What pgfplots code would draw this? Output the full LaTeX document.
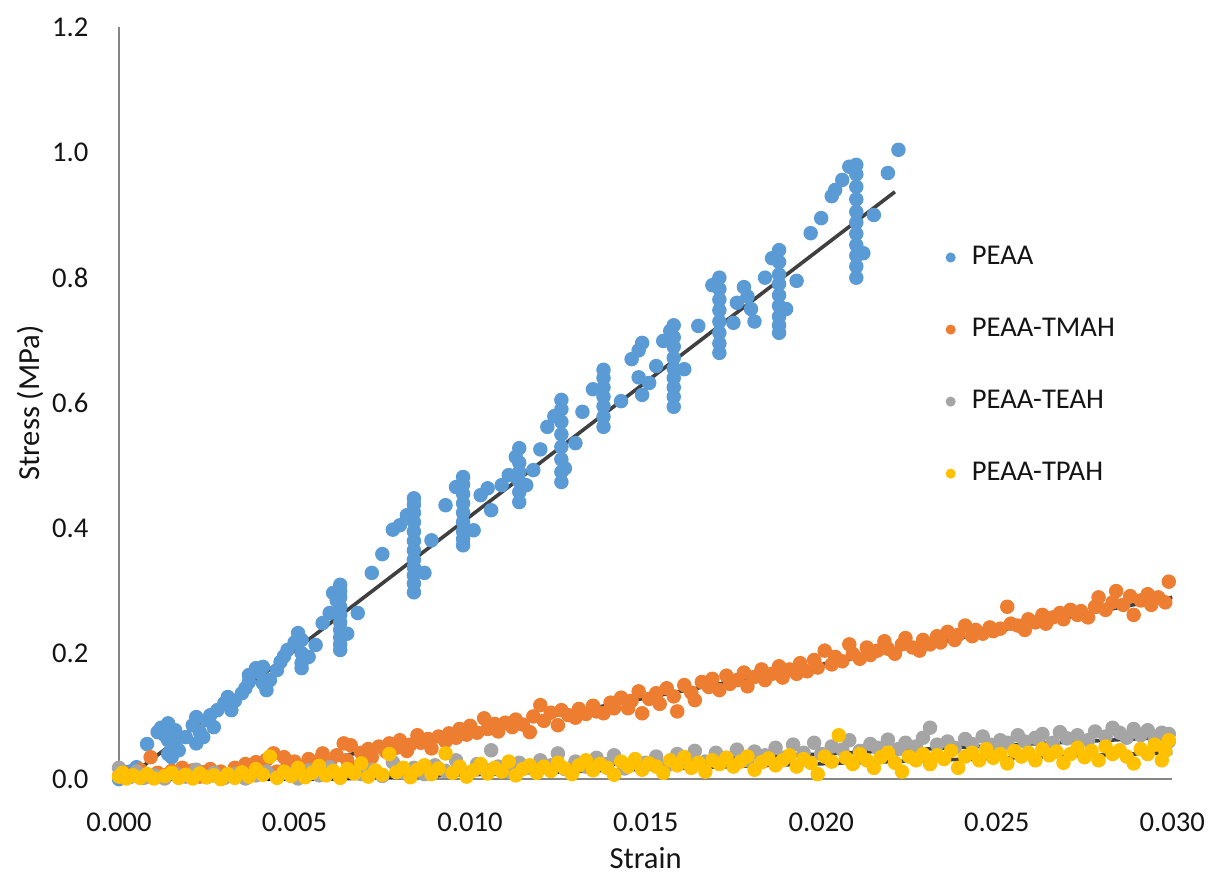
\documentclass[border=0pt]{standalone}
\usepackage{fontspec}
\setmainfont{Carlito}
\usepackage{pgfplots}
\pgfplotsset{compat=1.18}

\definecolor{peaa}{RGB}{91,155,213}
\definecolor{tmah}{RGB}{237,125,49}
\definecolor{teah}{RGB}{165,165,165}
\definecolor{tpah}{RGB}{255,192,0}
\definecolor{axisgray}{RGB}{134,134,134}
\definecolor{txt}{RGB}{20,20,20}

\begin{document}
\begin{tikzpicture}
\useasboundingbox (-42.8pt,-35.6pt) rectangle (393.8pt,280.2pt);
\begin{axis}[
  at={(0,0)}, anchor=south west,
  scale only axis,
  width=378.8pt, height=270.5pt,
  xmin=0, xmax=0.030, ymin=0, ymax=1.2,
  axis x line=bottom, axis y line=left,
  axis line style={-, draw=axisgray, line width=0.7pt},
  xtick={0,0.005,...,0.0301}, ytick={0,0.2,...,1.21},
  major tick length=0pt,
  /pgf/number format/assume math mode=true,
  xticklabel={\pgfmathprintnumber[fixed,fixed zerofill,precision=3]{\tick}},
  yticklabel={\pgfmathprintnumber[fixed,fixed zerofill,precision=1]{\tick}},
  scaled x ticks=false,
  ticklabel style={font=\fontsize{10.3}{12}\selectfont, text=txt},
  xticklabel style={yshift=-8.5pt},
  yticklabel style={xshift=-7.5pt},
  xlabel={Strain}, ylabel={Stress (MPa)},
  label style={font=\fontsize{11}{13}\selectfont, text=txt},
  xlabel style={at={([yshift=-28.4pt]axis description cs:0.5,0)}, anchor=center},
  ylabel style={at={([xshift=-32pt]axis description cs:0,0.5)}, anchor=center},
  clip=false,
  legend style={draw=none, fill=none, at={(rel axis cs:0.7764,0.724)}, anchor=north west,
    row sep=13.8pt, column sep=3.8pt, font=\fontsize{10.3}{12}\selectfont, text=txt},
  legend cell align=left,
]
% PEAA
\addplot[only marks, mark=*, mark size=2.4pt, color=peaa,
  legend image code/.code={\fill[peaa] (0pt,0pt) circle (1.6pt);}] coordinates {
(0.0000,0.000) (0.0001,0.005) (0.0003,0.012) (0.0005,0.019) (0.0008,0.056) (0.0011,0.075)
(0.0012,0.082) (0.0013,0.070) (0.0014,0.089) (0.0014,0.062) (0.0015,0.035) (0.0015,0.048)
(0.0016,0.078) (0.0016,0.057) (0.0017,0.046) (0.0014,0.040) (0.0019,0.067) (0.0021,0.086)
(0.0022,0.099) (0.0022,0.057) (0.0023,0.075) (0.0024,0.067) (0.0025,0.094) (0.0026,0.102)
(0.0027,0.083) (0.0028,0.110) (0.0030,0.121) (0.0031,0.131) (0.0032,0.110) (0.0033,0.125)
(0.0035,0.137) (0.0036,0.145) (0.0037,0.155) (0.0037,0.166) (0.0039,0.177) (0.0040,0.170)
(0.0041,0.179) (0.0041,0.153) (0.0042,0.142) (0.0043,0.158) (0.0045,0.174) (0.0046,0.187)
(0.0047,0.196) (0.0048,0.206) (0.0050,0.218) (0.0051,0.233) (0.0052,0.222) (0.0052,0.201)
(0.0052,0.185) (0.0052,0.177) (0.0054,0.195) (0.0056,0.214) (0.0058,0.249) (0.0060,0.265)
(0.0061,0.297) (0.0062,0.285) (0.0063,0.310) (0.0063,0.300) (0.0063,0.290) (0.0063,0.275)
(0.0063,0.262) (0.0063,0.250) (0.0063,0.238) (0.0063,0.226) (0.0063,0.215) (0.0063,0.206)
(0.0065,0.232) (0.0068,0.265) (0.0072,0.329) (0.0075,0.359) (0.0078,0.398) (0.0080,0.405)
(0.0082,0.421) (0.0084,0.448) (0.0084,0.438) (0.0084,0.425) (0.0084,0.410) (0.0084,0.395)
(0.0084,0.380) (0.0084,0.365) (0.0084,0.350) (0.0084,0.338) (0.0084,0.325) (0.0084,0.312)
(0.0084,0.298) (0.0087,0.329) (0.0089,0.381) (0.0093,0.437) (0.0096,0.466) (0.0098,0.482)
(0.0098,0.470) (0.0098,0.455) (0.0098,0.440) (0.0098,0.425) (0.0098,0.410) (0.0098,0.395)
(0.0098,0.383) (0.0098,0.373) (0.0101,0.397) (0.0103,0.453) (0.0105,0.464) (0.0106,0.429)
(0.0109,0.469) (0.0111,0.485) (0.0113,0.514) (0.0114,0.528) (0.0114,0.505) (0.0114,0.490)
(0.0114,0.475) (0.0114,0.458) (0.0114,0.442) (0.0116,0.469) (0.0118,0.493) (0.0120,0.526)
(0.0122,0.562) (0.0124,0.579) (0.0126,0.605) (0.0126,0.590) (0.0126,0.570) (0.0126,0.550)
(0.0126,0.530) (0.0126,0.510) (0.0126,0.490) (0.0126,0.474) (0.0127,0.496) (0.0130,0.536)
(0.0132,0.586) (0.0135,0.622) (0.0138,0.653) (0.0138,0.640) (0.0138,0.625) (0.0138,0.610)
(0.0138,0.595) (0.0138,0.578) (0.0138,0.562) (0.0143,0.603) (0.0146,0.670) (0.0148,0.684)
(0.0149,0.696) (0.0148,0.641) (0.0151,0.632) (0.0149,0.613) (0.0153,0.659) (0.0155,0.699)
(0.0157,0.715) (0.0158,0.724) (0.0158,0.705) (0.0158,0.690) (0.0158,0.672) (0.0158,0.655)
(0.0158,0.640) (0.0158,0.625) (0.0158,0.610) (0.0158,0.594) (0.0161,0.654) (0.0165,0.723)
(0.0169,0.788) (0.0171,0.800) (0.0171,0.782) (0.0171,0.765) (0.0171,0.748) (0.0171,0.730)
(0.0171,0.712) (0.0171,0.695) (0.0171,0.680) (0.0175,0.728) (0.0176,0.760) (0.0178,0.785)
(0.0179,0.770) (0.0180,0.750) (0.0181,0.730) (0.0184,0.800) (0.0186,0.831) (0.0188,0.844)
(0.0188,0.825) (0.0188,0.805) (0.0188,0.790) (0.0188,0.772) (0.0188,0.755) (0.0188,0.738)
(0.0188,0.724) (0.0188,0.712) (0.0190,0.750) (0.0193,0.795) (0.0197,0.871) (0.0200,0.895)
(0.0203,0.930) (0.0204,0.940) (0.0206,0.956) (0.0208,0.977) (0.0210,0.980) (0.0210,0.965)
(0.0210,0.945) (0.0210,0.925) (0.0210,0.905) (0.0210,0.888) (0.0210,0.870) (0.0210,0.852)
(0.0210,0.835) (0.0210,0.818) (0.0210,0.800) (0.0212,0.839) (0.0215,0.900) (0.0219,0.967)
(0.0222,1.004)
};
\addlegendentry{PEAA}
% PEAA-TMAH
\addplot[only marks, mark=*, mark size=2.4pt, color=tmah,
  legend image code/.code={\fill[tmah] (0pt,0pt) circle (1.6pt);}] coordinates {
(0.0000,0.005) (0.0001,0.012) (0.0002,0.002) (0.0004,0.008) (0.0006,0.015) (0.0008,0.004)
(0.0009,0.035) (0.0011,0.010) (0.0013,0.006) (0.0015,0.013) (0.0017,0.003) (0.0018,0.018)
(0.0020,0.008) (0.0021,0.014) (0.0023,0.004) (0.0024,0.011) (0.0026,0.016) (0.0027,0.006)
(0.0029,0.012) (0.0030,0.003) (0.0032,0.009) (0.0033,0.018) (0.0035,0.007) (0.0036,0.024)
(0.0038,0.015) (0.0039,0.027) (0.0040,0.020) (0.0042,0.031) (0.0044,0.041) (0.0045,0.012)
(0.0047,0.035) (0.0048,0.022) (0.0050,0.028) (0.0052,0.019) (0.0054,0.032) (0.0055,0.024)
(0.0057,0.030) (0.0058,0.041) (0.0060,0.026) (0.0062,0.038) (0.0064,0.057) (0.0065,0.030)
(0.0066,0.054) (0.0068,0.019) (0.0069,0.042) (0.0071,0.048) (0.0072,0.035) (0.0074,0.052)
(0.0076,0.044) (0.0077,0.057) (0.0079,0.050) (0.0080,0.062) (0.0082,0.045) (0.0083,0.055)
(0.0085,0.070) (0.0086,0.058) (0.0088,0.064) (0.0089,0.049) (0.0091,0.068) (0.0093,0.060)
(0.0094,0.073) (0.0096,0.066) (0.0097,0.080) (0.0099,0.071) (0.0100,0.085) (0.0102,0.074)
(0.0104,0.097) (0.0105,0.080) (0.0107,0.088) (0.0108,0.076) (0.0110,0.090) (0.0112,0.083)
(0.0113,0.095) (0.0115,0.087) (0.0117,0.075) (0.0118,0.100) (0.0120,0.118) (0.0121,0.093)
(0.0123,0.106) (0.0125,0.086) (0.0126,0.110) (0.0128,0.102) (0.0130,0.098) (0.0131,0.112)
(0.0133,0.104) (0.0135,0.117) (0.0136,0.108) (0.0138,0.105) (0.0140,0.122) (0.0141,0.113)
(0.0143,0.130) (0.0145,0.113) (0.0146,0.125) (0.0148,0.140) (0.0149,0.105) (0.0151,0.128)
(0.0153,0.137) (0.0154,0.120) (0.0156,0.145) (0.0158,0.132) (0.0159,0.108) (0.0161,0.150)
(0.0163,0.138) (0.0164,0.126) (0.0166,0.155) (0.0168,0.147) (0.0169,0.160) (0.0171,0.142)
(0.0173,0.165) (0.0174,0.152) (0.0176,0.158) (0.0178,0.170) (0.0179,0.148) (0.0181,0.163)
(0.0183,0.175) (0.0184,0.158) (0.0186,0.168) (0.0188,0.180) (0.0189,0.162) (0.0191,0.175)
(0.0193,0.168) (0.0194,0.185) (0.0196,0.172) (0.0198,0.190) (0.0199,0.178) (0.0201,0.205)
(0.0203,0.183) (0.0204,0.195) (0.0206,0.188) (0.0208,0.215) (0.0209,0.200) (0.0211,0.192)
(0.0213,0.210) (0.0214,0.198) (0.0216,0.205) (0.0218,0.220) (0.0219,0.208) (0.0221,0.200)
(0.0223,0.215) (0.0224,0.225) (0.0226,0.210) (0.0228,0.205) (0.0229,0.222) (0.0231,0.215)
(0.0233,0.228) (0.0234,0.218) (0.0236,0.235) (0.0238,0.222) (0.0239,0.230) (0.0241,0.245)
(0.0243,0.228) (0.0244,0.238) (0.0246,0.232) (0.0248,0.242) (0.0249,0.236) (0.0251,0.240)
(0.0253,0.275) (0.0254,0.248) (0.0256,0.245) (0.0258,0.238) (0.0259,0.255) (0.0261,0.250)
(0.0263,0.262) (0.0264,0.248) (0.0266,0.258) (0.0268,0.265) (0.0269,0.255) (0.0271,0.270)
(0.0273,0.262) (0.0274,0.268) (0.0276,0.258) (0.0278,0.275) (0.0279,0.290) (0.0281,0.270)
(0.0283,0.282) (0.0284,0.300) (0.0286,0.278) (0.0288,0.292) (0.0289,0.262) (0.0291,0.285)
(0.0293,0.295) (0.0294,0.278) (0.0296,0.290) (0.0298,0.282) (0.0299,0.315)
};
\addlegendentry{PEAA-TMAH}
% PEAA-TEAH
\addplot[only marks, mark=*, mark size=2.4pt, color=teah,
  legend image code/.code={\fill[teah] (0pt,0pt) circle (1.6pt);}] coordinates {
(0.0000,0.018) (0.0001,0.008) (0.0003,0.003) (0.0005,0.012) (0.0007,0.002) (0.0010,0.006)
(0.0013,0.001) (0.0016,0.009) (0.0019,0.004) (0.0022,0.015) (0.0025,0.003) (0.0027,0.010)
(0.0030,0.002) (0.0033,0.008) (0.0036,0.001) (0.0039,0.006) (0.0042,0.012) (0.0045,0.003)
(0.0048,0.009) (0.0051,0.001) (0.0054,0.014) (0.0057,0.006) (0.0060,0.019) (0.0063,0.004)
(0.0066,0.012) (0.0069,0.008) (0.0072,0.015) (0.0075,0.005) (0.0078,0.027) (0.0081,0.011)
(0.0084,0.018) (0.0087,0.008) (0.0090,0.022) (0.0093,0.013) (0.0096,0.030) (0.0099,0.010)
(0.0102,0.024) (0.0104,0.016) (0.0106,0.046) (0.0108,0.020) (0.0111,0.012) (0.0114,0.026)
(0.0117,0.018) (0.0120,0.030) (0.0123,0.022) (0.0125,0.041) (0.0127,0.016) (0.0130,0.028)
(0.0133,0.020) (0.0136,0.034) (0.0139,0.024) (0.0141,0.038) (0.0144,0.017) (0.0147,0.030)
(0.0150,0.026) (0.0153,0.036) (0.0156,0.022) (0.0159,0.040) (0.0162,0.030) (0.0164,0.045)
(0.0167,0.028) (0.0170,0.042) (0.0173,0.034) (0.0176,0.047) (0.0179,0.030) (0.0181,0.044)
(0.0184,0.038) (0.0187,0.050) (0.0190,0.035) (0.0192,0.055) (0.0195,0.042) (0.0198,0.058)
(0.0200,0.040) (0.0203,0.052) (0.0206,0.047) (0.0208,0.062) (0.0211,0.045) (0.0214,0.056)
(0.0216,0.050) (0.0219,0.063) (0.0222,0.048) (0.0224,0.058) (0.0227,0.052) (0.0229,0.066)
(0.0231,0.082) (0.0233,0.055) (0.0236,0.060) (0.0238,0.050) (0.0241,0.064) (0.0243,0.056)
(0.0246,0.068) (0.0248,0.055) (0.0251,0.062) (0.0253,0.058) (0.0256,0.070) (0.0258,0.060)
(0.0261,0.066) (0.0263,0.072) (0.0266,0.058) (0.0268,0.075) (0.0270,0.065) (0.0273,0.070)
(0.0276,0.062) (0.0278,0.076) (0.0281,0.068) (0.0283,0.082) (0.0285,0.074) (0.0287,0.066)
(0.0289,0.080) (0.0291,0.070) (0.0293,0.078) (0.0295,0.064) (0.0297,0.074) (0.0299,0.072)
(0.0299,0.060)
};
\addlegendentry{PEAA-TEAH}
% PEAA-TPAH
\addplot[only marks, mark=*, mark size=2.4pt, color=tpah,
  legend image code/.code={\fill[tpah] (0pt,0pt) circle (1.6pt);}] coordinates {
(0.0000,0.004) (0.0001,0.010) (0.0002,0.001) (0.0004,0.006) (0.0006,0.002) (0.0008,0.008)
(0.0010,0.001) (0.0013,0.005) (0.0015,0.010) (0.0017,0.002) (0.0019,0.007) (0.0021,0.001)
(0.0023,0.009) (0.0025,0.003) (0.0027,0.006) (0.0029,0.000) (0.0031,0.008) (0.0033,0.002)
(0.0035,0.011) (0.0037,0.004) (0.0039,0.016) (0.0041,0.007) (0.0043,0.036) (0.0045,0.002)
(0.0047,0.012) (0.0049,0.005) (0.0051,0.018) (0.0053,0.003) (0.0055,0.010) (0.0057,0.021)
(0.0059,0.006) (0.0061,0.013) (0.0063,0.002) (0.0065,0.016) (0.0067,0.009) (0.0069,0.025)
(0.0071,0.004) (0.0073,0.014) (0.0075,0.007) (0.0077,0.040) (0.0079,0.011) (0.0081,0.018)
(0.0083,0.003) (0.0085,0.015) (0.0087,0.022) (0.0089,0.008) (0.0091,0.017) (0.0093,0.041)
(0.0095,0.010) (0.0097,0.020) (0.0099,0.004) (0.0101,0.014) (0.0103,0.024) (0.0105,0.009)
(0.0107,0.018) (0.0109,0.012) (0.0111,0.028) (0.0113,0.006) (0.0115,0.016) (0.0117,0.022)
(0.0119,0.010) (0.0121,0.020) (0.0123,0.013) (0.0125,0.026) (0.0127,0.017) (0.0129,0.008)
(0.0131,0.022) (0.0133,0.030) (0.0135,0.014) (0.0137,0.024) (0.0139,0.018) (0.0141,0.007)
(0.0143,0.028) (0.0145,0.020) (0.0147,0.032) (0.0149,0.015) (0.0151,0.025) (0.0153,0.020)
(0.0155,0.010) (0.0157,0.030) (0.0159,0.022) (0.0161,0.035) (0.0163,0.018) (0.0165,0.026)
(0.0167,0.012) (0.0169,0.030) (0.0171,0.024) (0.0173,0.034) (0.0175,0.020) (0.0177,0.028)
(0.0179,0.036) (0.0181,0.015) (0.0183,0.027) (0.0185,0.033) (0.0187,0.022) (0.0189,0.030)
(0.0191,0.038) (0.0193,0.020) (0.0195,0.032) (0.0197,0.026) (0.0199,0.008) (0.0201,0.036)
(0.0203,0.028) (0.0205,0.070) (0.0207,0.034) (0.0209,0.024) (0.0211,0.040) (0.0213,0.030)
(0.0215,0.018) (0.0217,0.035) (0.0219,0.042) (0.0221,0.026) (0.0223,0.012) (0.0225,0.036)
(0.0227,0.030) (0.0229,0.040) (0.0231,0.024) (0.0233,0.038) (0.0235,0.032) (0.0237,0.045)
(0.0239,0.018) (0.0241,0.036) (0.0243,0.042) (0.0245,0.030) (0.0247,0.048) (0.0249,0.034)
(0.0251,0.040) (0.0253,0.025) (0.0255,0.045) (0.0257,0.036) (0.0259,0.042) (0.0261,0.030)
(0.0263,0.048) (0.0265,0.038) (0.0267,0.044) (0.0269,0.026) (0.0271,0.040) (0.0273,0.050)
(0.0275,0.035) (0.0277,0.045) (0.0279,0.030) (0.0281,0.052) (0.0283,0.040) (0.0285,0.046)
(0.0287,0.036) (0.0289,0.025) (0.0291,0.048) (0.0293,0.040) (0.0295,0.055) (0.0297,0.030)
(0.0298,0.045) (0.0299,0.062)
};
\addlegendentry{PEAA-TPAH}
% linear trendlines
\addplot[forget plot, black, opacity=0.75, line width=1.3pt] coordinates {(0.0002,0) (0.0221,0.937)};
\addplot[forget plot, black, opacity=0.75, line width=1.3pt] coordinates {(0,0) (0.0029,0) (0.0300,0.290)};
\addplot[forget plot, black, opacity=0.75, line width=1.3pt] coordinates {(0,0) (0.0052,0) (0.0300,0.067)};
\addplot[forget plot, black, opacity=0.75, line width=1.3pt] coordinates {(0,0) (0.0060,0) (0.0300,0.042)};
\end{axis}
\end{tikzpicture}
\end{document}
